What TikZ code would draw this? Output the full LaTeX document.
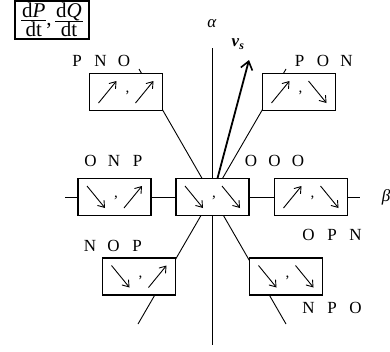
\documentclass[tikz,border=0pt]{standalone}
\usepackage{fontspec}
\setmainfont{Liberation Serif}
\usetikzlibrary{arrows.meta,backgrounds}
\newcommand{\gUp}[2]{\draw[glyph] ([shift={(#2-9,11)}]#1.center) -- ++(18,-22);}
\newcommand{\gDn}[2]{\draw[glyph] ([shift={(#2-9,-11)}]#1.center) -- ++(18,22);}
\newcommand{\gComma}[1]{\node[commastyle] at ([shift={(1.5,1)}]#1.center) {,};}
\newcommand{\LT}[3]{\makebox[23.5pt]{#1}\makebox[23.5pt]{#2}\makebox[23.5pt]{#3}}
\newcommand{\myfrac}[2]{{\renewcommand{\arraystretch}{0}\begin{tabular}{@{\hspace{1pt}}c@{\hspace{1pt}}}\rule[-3pt]{0pt}{15.5pt}#1\\\hline\rule[-0.5pt]{0pt}{16.5pt}#2\end{tabular}}}
\begin{document}
\begin{tikzpicture}[x=1pt,y=-1pt,
  cell/.style={draw,line width=1.1pt,fill=white,minimum width=73pt,minimum height=37pt,inner sep=0pt},
  axis/.style={line width=0.9pt},
  glyph/.style={line width=0.9pt,-{Straight Barb[length=6pt,width=8.5pt,line width=0.9pt]}},
  vsarrow/.style={line width=1.8pt,-{Straight Barb[length=8pt,width=12pt,line width=1.6pt]}},
  lbl/.style={inner sep=0pt,font=\fontsize{17}{20}\selectfont},
  commastyle/.style={inner sep=0pt,font=\fontsize{15}{17}\selectfont},
]
\useasboundingbox (0,0) rectangle (390,351);

% boxes
\node[cell] (C)   at (212.5,197) {};
\node[cell] (R)   at (311,197) {};
\node[cell] (L)   at (114.5,197) {};
\node[cell] (TL)  at (126,92) {};
\node[cell] (TR)  at (299,92) {};
\node[cell] (BL)  at (139,276.5) {};
\node[cell] (BR)  at (286,276.5) {};

% glyphs
\gUp{TL}{-18.5} \gComma{TL} \gUp{TL}{18.5}
\gUp{TR}{-18.5} \gComma{TR} \gDn{TR}{18.5}
\gDn{L}{-18.5}  \gComma{L}  \gUp{L}{18.5}
\gDn{C}{-18.5}  \gComma{C}  \gDn{C}{18.5}
\gUp{R}{-18.5}  \gComma{R}  \gDn{R}{18.5}
\gDn{BL}{-18.5} \gComma{BL} \gUp{BL}{18.5}
\gDn{BR}{-18.5} \gComma{BR} \gDn{BR}{18.5}

% axis end points
\coordinate (aTop) at (212,48);
\coordinate (aBot) at (212,345);
\coordinate (bL) at (65,197);
\coordinate (bR) at (360,197);
\coordinate (d1a) at (139,69);
\coordinate (d1b) at (286,324);
\coordinate (d2a) at (286,69);
\coordinate (d2b) at (138,324);
\coordinate (vtip) at (249,60);

\begin{pgfonlayer}{background}
\draw[axis] (aTop) -- (aBot);
\draw[axis] (bL) -- (bR);
\draw[axis] (d1a) -- (d1b);
\draw[axis] (d2a) -- (d2b);
\draw[vsarrow] (C.center) -- (vtip);
\end{pgfonlayer}

% axis labels
\node[lbl] (alpha) at (212,24) {\textit{α}};
\node[lbl] (beta) at (386,197) {\textit{β}};
\node[lbl] (vs) at (238,44) {\textbf{\textit{v}}\textsubscript{\textbf{\textit{s}}}};

% state labels
\node[lbl] (lTL) at (100.5,61) {\LT{P}{N}{O}};
\node[lbl] (lTR) at (323,61) {\LT{P}{O}{N}};
\node[lbl] (lL)  at (114,161) {\LT{O}{N}{P}};
\node[lbl] (lR)  at (274.5,161) {\LT{O}{O}{O}};
\node[lbl] (lR2) at (332,235) {\LT{O}{P}{N}};
\node[lbl] (lBL) at (113.5,246) {\LT{N}{O}{P}};
\node[lbl] (lBR) at (332,308) {\LT{N}{P}{O}};

% fraction box
\node[draw,line width=1.1pt,minimum width=74pt,minimum height=38pt,inner sep=0pt,font=\fontsize{21}{22}\selectfont] (fr) at (52,20)
  {\myfrac{d\textit{P}}{dt},\,\myfrac{d\textit{Q}}{dt}};
\end{tikzpicture}
\end{document}
